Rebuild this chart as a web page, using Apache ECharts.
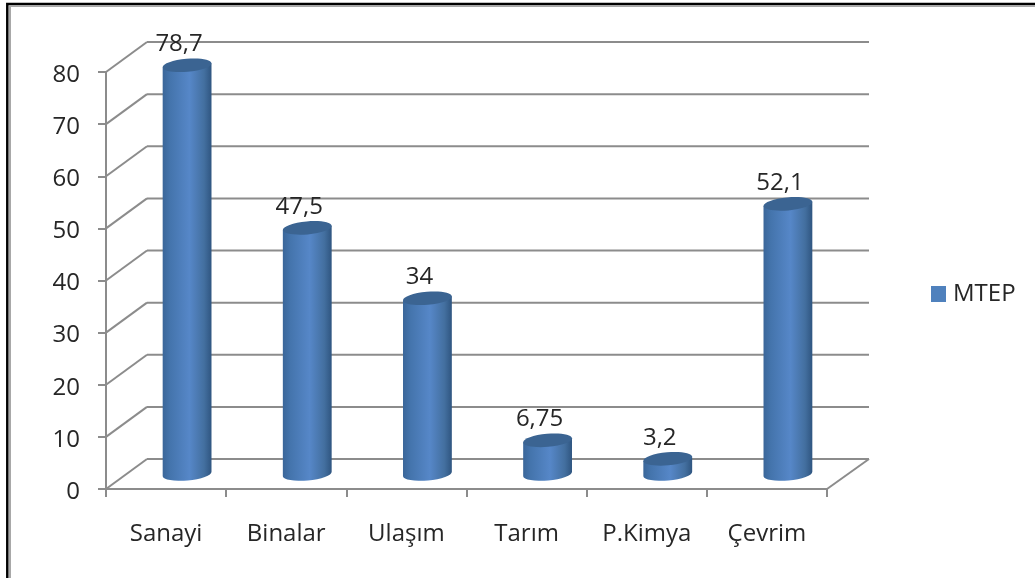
<!DOCTYPE html>
<html><head><meta charset="utf-8">
<style>html,body{margin:0;padding:0;background:#fff;overflow:hidden}#c{width:1035px;height:578px;filter:blur(0.45px)}</style>
<script src="https://cdn.jsdelivr.net/npm/echarts@6/dist/echarts.min.js"></script>
</head><body><div id="c"></div>
<script>
const categories = ['Sanayi','Binalar','Ulaşım','Tarım','P.Kimya','Çevrim'];
const mtepValues = [78.7,47.5,34,6.75,3.2,52.1];
const valueLabels = ['78,7','47,5','34','6,75','3,2','52,1'];
const gridValues = [0,10,20,30,40,50,60,70,80];
const seriesName = 'MTEP';

const DX = 41, DY = -30, BAR_W = 49, RY = 6.5, TILT = 5 * Math.PI / 180;
const GRID = '#8c8c8c', TXT = '#262626', FONT = '"Open Sans"', FS = 24;
const barFill = new echarts.graphic.LinearGradient(0,0,1,0,[
  {offset:0,color:'#3a6699'},{offset:0.15,color:'#4474ac'},{offset:0.55,color:'#5687c8'},
  {offset:0.85,color:'#436f9f'},{offset:1,color:'#2f5580'}]);

const chart = echarts.init(document.getElementById('c'), null, {renderer:'canvas'});
chart.setOption({
  animation:false,
  backgroundColor:'#fff',
  textStyle:{fontFamily:FONT},
  grid:{left:106,top:72,width:721,height:417,containLabel:false},
  legend:{show:true,left:931,top:282,padding:0,itemWidth:15,itemHeight:16,itemGap:0,icon:'rect',
    data:[{name:seriesName,itemStyle:{color:'#4f81bd'}}],
    textStyle:{fontFamily:FONT,fontSize:FS,color:TXT,padding:[0,0,0,2]}},
  xAxis:{type:'category',data:categories,
    axisLine:{lineStyle:{color:GRID,width:2}},
    axisTick:{show:true,length:8,lineStyle:{color:GRID,width:2}},
    axisLabel:{color:TXT,fontSize:FS,margin:33,fontFamily:FONT}},
  yAxis:{type:'value',min:0,max:80,interval:10,
    axisLine:{show:true,lineStyle:{color:GRID,width:2}},
    axisTick:{show:true,length:8,lineStyle:{color:GRID,width:2}},
    splitLine:{show:false},
    axisLabel:{color:TXT,fontSize:FS,margin:26,verticalAlign:'top',lineHeight:6,fontFamily:FONT}},
  graphic:[
    {type:'rect',z:100,shape:{x:7.3,y:4,width:1100,height:700},style:{fill:'none',stroke:'#000',lineWidth:2.5}},
    {type:'rect',z:100,shape:{x:10,y:6,width:1100,height:700},style:{fill:'none',stroke:'#a8a8a8',lineWidth:2}}
  ],
  series:[
    {type:'custom',name:'walls',silent:true,z:1,data:gridValues,
     encode:{y:0},
     renderItem(p,api){
       const v = api.value(0);
       const a = api.coord([0,v]);
       const x0 = p.coordSys.x, x1 = p.coordSys.x+p.coordSys.width;
       const ls = {stroke:GRID,lineWidth:2,fill:'none'};
       const ch = [
         {type:'line',shape:{x1:x0,y1:a[1],x2:x0+DX,y2:a[1]+DY},style:ls},
         {type:'line',shape:{x1:x0+DX,y1:a[1]+DY,x2:x1+DX+1,y2:a[1]+DY},style:ls}];
       if(v===0) ch.push({type:'line',shape:{x1:x1,y1:a[1],x2:x1+DX+1,y2:a[1]+DY},style:ls});
       return {type:'group',children:ch};
     }},
    {type:'custom',name:seriesName,z:5,data:mtepValues.map((v,i)=>[i,v,valueLabels[i]]),
     encode:{x:0,y:1},itemStyle:{color:'#4f81bd'},
     renderItem(p,api){
       const i = api.value(0), v = api.value(1);
       const b = api.coord([i,0]), t = api.coord([i,v]);
       const cx = b[0]+DX/2+0.5, by = b[1]+DY/2, ty = t[1]+DY/2+1.5, w = BAR_W/2;
       const dx = w*Math.cos(TILT), dy = w*Math.sin(TILT);
       return {type:'group',children:[
         {type:'path',shape:{
            pathData:`M${cx-dx} ${ty+dy}L${cx-dx} ${by+dy}A${w} ${RY} -5 0 0 ${cx+dx} ${by-dy}L${cx+dx} ${ty-dy}Z`},
          style:{fill:barFill}},
         {type:'ellipse',shape:{cx:0,cy:0,rx:w,ry:RY},x:cx,y:ty,rotation:TILT,style:{fill:'#3b6492'}},
         {type:'text',style:{text:api.value(2)+'',x:cx-8,y:ty-9,align:'center',verticalAlign:'bottom',
            fill:TXT,fontSize:FS,fontFamily:FONT}}
       ]};
     }}
  ]
});
</script></body></html>
